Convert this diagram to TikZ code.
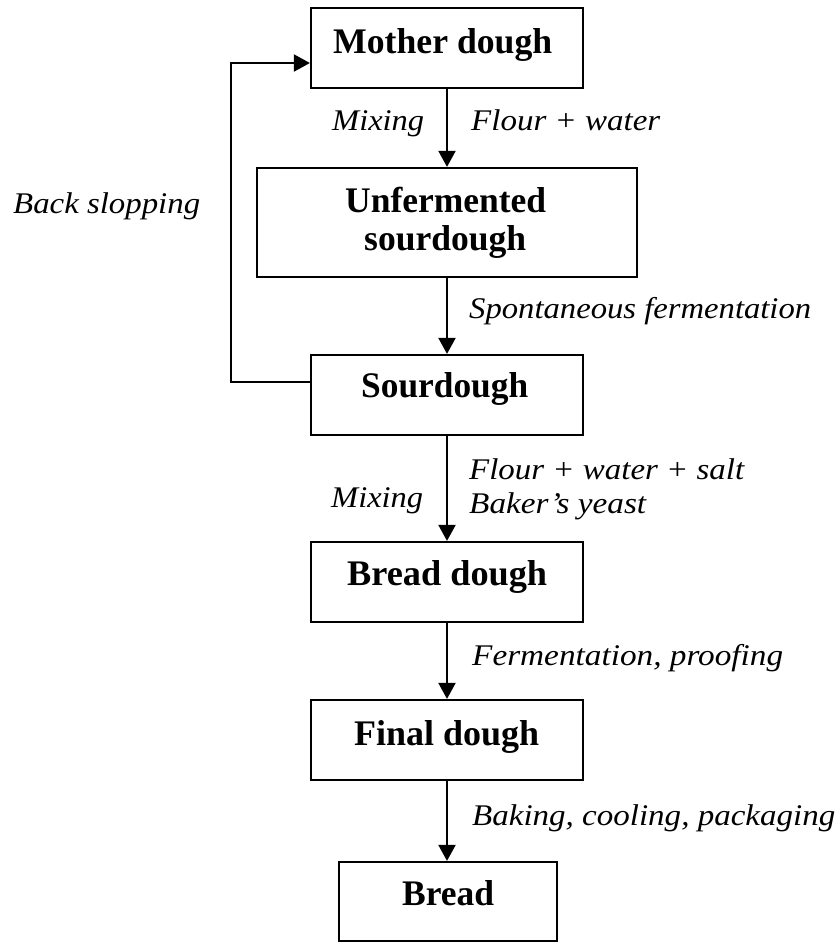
\documentclass[tikz,border=0pt]{standalone}
\usepackage{fontspec}
\setmainfont{Liberation Serif}
\usepackage{graphicx}
\usetikzlibrary{arrows.meta}
\newcommand{\fitw}[2]{\resizebox{#1pt}{\height}{#2}}
\tikzset{
  boxx/.style={draw, line width=2.2pt, inner sep=0pt},
  btxt/.style={anchor=base west, inner sep=0pt, font=\fontsize{36}{40}\selectfont\bfseries},
  itxt/.style={anchor=base west, inner sep=0pt, font=\fontsize{30}{34}\selectfont\itshape},
  arr/.style={line width=2pt, -{Triangle[length=16pt,width=17pt]}},
  lin/.style={line width=2pt}
}
\begin{document}
\begin{tikzpicture}[x=1pt,y=-1pt]
\useasboundingbox (0,0) rectangle (837,943);
% boxes
\node[boxx, minimum width=272pt, minimum height=80pt] (md) at (447,48) {};
\node[boxx, minimum width=380pt, minimum height=109pt] (uf) at (447,222.5) {};
\node[boxx, minimum width=272pt, minimum height=80pt] (sd) at (447,395) {};
\node[boxx, minimum width=272pt, minimum height=80pt] (bd) at (447,582) {};
\node[boxx, minimum width=272pt, minimum height=80pt] (fd) at (447,740) {};
\node[boxx, minimum width=218pt, minimum height=79pt] (br) at (448,901.5) {};
% box texts
\node[btxt] (mdT) at (333,53) {\fitw{219}{Mother dough}};
\node[btxt] (ufT1) at (345,212) {\fitw{201}{Unfermented}};
\node[btxt] (ufT2) at (364,250) {\fitw{162}{sourdough}};
\node[btxt] (sdT) at (361,397) {\fitw{167}{Sourdough}};
\node[btxt] (bdT) at (347,585) {\fitw{200}{Bread dough}};
\node[btxt] (fdT) at (354,745) {\fitw{185}{Final dough}};
\node[btxt] (brT) at (402,905) {\fitw{92}{Bread}};
% labels
\node[itxt] (l1) at (332,130) {\fitw{92}{Mixing}};
\node[itxt] (l2) at (471,130) {\fitw{189}{Flour + water}};
\node[itxt] (l3) at (13,213) {\fitw{187}{Back slopping}};
\node[itxt] (l4) at (469,318) {\fitw{342}{Spontaneous fermentation}};
\node[itxt] (l5) at (469,479) {\fitw{275}{Flour + water + salt}};
\node[itxt] (l6) at (469,513) {\fitw{177}{Baker’s yeast}};
\node[itxt] (l7) at (331,507) {\fitw{92}{Mixing}};
\node[itxt] (l8) at (472,665) {\fitw{311}{Fermentation, proofing}};
\node[itxt] (l9) at (472,825) {\fitw{363}{Baking, cooling, packaging}};
% connectors
\draw[arr] (md.south) -- (md.south |- uf.north);
\draw[arr] (uf.south) -- (uf.south |- sd.north);
\draw[arr] (sd.south) -- (sd.south |- bd.north);
\draw[arr] (bd.south) -- (bd.south |- fd.north);
\draw[arr] (fd.south) -- (fd.south |- br.north);
\coordinate (lb) at (231,382);
\coordinate (lt) at (231,63);
\draw[arr] (sd.west |- lb) -- (lb) -- (lt) -- (md.west |- lt);
\end{tikzpicture}
\end{document}
